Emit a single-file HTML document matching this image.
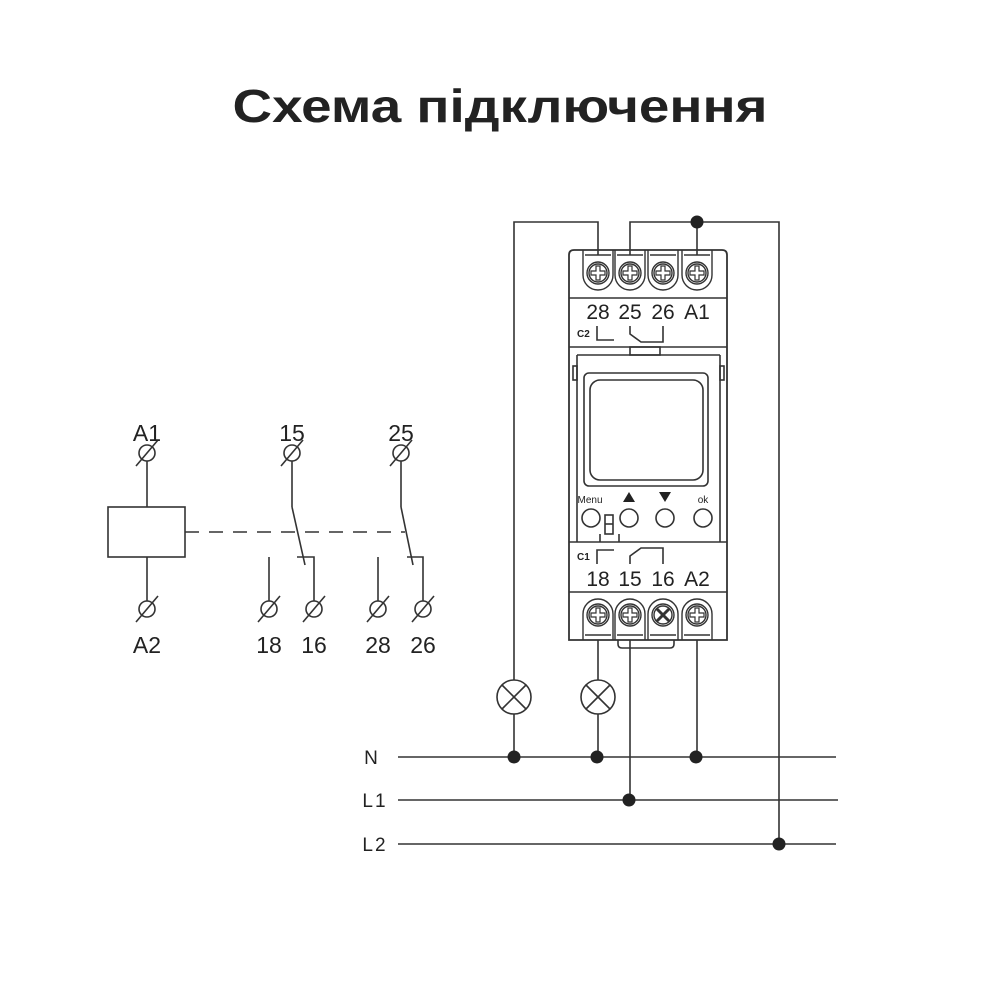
<!DOCTYPE html>
<html><head><meta charset="utf-8"><style>html,body{margin:0;padding:0;background:#fff}svg{display:block}</style></head>
<body>
<svg width="1000" height="1000" viewBox="0 0 1000 1000" xmlns="http://www.w3.org/2000/svg" font-family="Liberation Sans, sans-serif">
<text x="500" y="122" text-anchor="middle" font-size="46" font-weight="bold" fill="#222" textLength="535" lengthAdjust="spacingAndGlyphs">Схема підключення</text>

<g stroke="#333" stroke-width="1.6" fill="none">
<rect x="108" y="507" width="77" height="50"/>
<line x1="147" y1="461" x2="147" y2="507"/>
<line x1="147" y1="557" x2="147" y2="601"/>
<line x1="185" y1="532" x2="405" y2="532" stroke-dasharray="14,10"/>
<line x1="292" y1="461" x2="292" y2="507"/><line x1="292" y1="507" x2="305" y2="565"/>
<polyline points="297,557 314,557 314,601"/>
<line x1="269" y1="557" x2="269" y2="601"/>
<line x1="401" y1="461" x2="401" y2="507"/><line x1="401" y1="507" x2="413" y2="565"/>
<polyline points="407,557 423,557 423,601"/>
<line x1="378" y1="557" x2="378" y2="601"/>
<g id="t">
<circle cx="147" cy="453" r="8"/><line x1="136" y1="466" x2="158" y2="440"/>
</g>
<use href="#t" x="145"/><use href="#t" x="254"/>
<use href="#t" y="156"/><use href="#t" x="122" y="156"/><use href="#t" x="167" y="156"/><use href="#t" x="231" y="156"/><use href="#t" x="276" y="156"/>

<polyline points="514,680 514,222 598,222 598,255"/>
<polyline points="630,255 630,222 779,222 779,845"/>
<line x1="697" y1="222" x2="697" y2="255"/>
<line x1="514" y1="714" x2="514" y2="757"/>
<line x1="598" y1="640" x2="598" y2="680"/><line x1="598" y1="714" x2="598" y2="757"/>
<line x1="630" y1="640" x2="630" y2="800"/>
<line x1="697" y1="640" x2="697" y2="757"/>
<line x1="398" y1="757" x2="836" y2="757"/>
<line x1="398" y1="800" x2="838" y2="800"/>
<line x1="398" y1="844" x2="836" y2="844"/>
<circle cx="514" cy="697" r="17"/><line x1="502" y1="685" x2="526" y2="709"/><line x1="526" y1="685" x2="502" y2="709"/>
<circle cx="598" cy="697" r="17"/><line x1="586" y1="685" x2="610" y2="709"/><line x1="610" y1="685" x2="586" y2="709"/>

<path d="M569,640 L569,255 Q569,250 574,250 L722,250 Q727,250 727,255 L727,640 Z" stroke-width="1.8"/>
<line x1="569" y1="298" x2="727" y2="298"/>
<line x1="569" y1="347" x2="727" y2="347"/>
<line x1="569" y1="542" x2="727" y2="542"/>
<line x1="569" y1="592" x2="727" y2="592"/>
<line x1="577" y1="355" x2="577" y2="542"/><line x1="720" y1="355" x2="720" y2="542"/>
<line x1="577" y1="355" x2="720" y2="355"/>
<rect x="630" y="347" width="30" height="8"/>
<rect x="573" y="366" width="4" height="14"/><rect x="720" y="366" width="4" height="14"/>
<rect x="584" y="373" width="124" height="113" rx="5"/>
<rect x="590" y="380" width="113" height="100" rx="10"/>
<circle cx="591" cy="518" r="9"/><circle cx="629" cy="518" r="9"/><circle cx="665" cy="518" r="9"/><circle cx="703" cy="518" r="9"/>
<rect x="605" y="515" width="8" height="19"/><line x1="605" y1="524" x2="613" y2="524"/>
<line x1="600" y1="534" x2="600" y2="542"/><line x1="619" y1="534" x2="619" y2="542"/>
<polyline points="597,326 597,340 614,340"/>
<polyline points="630,326 630,334 641,342 663,342 663,326"/>
<polyline points="614,550 597,550 597,564"/>
<polyline points="630,564 630,556 641,548 663,548 663,564"/>
<path d="M618,640 L618,644 Q618,648 622,648 L670,648 Q674,648 674,644 L674,640"/>
</g>

<g stroke="#333" stroke-width="1.4" fill="none">
<g id="tt">
<path d="M583,250 L583,275 A15,15 0 0 0 613,275 L613,250"/>
<line x1="585" y1="255" x2="611" y2="255"/>
<circle cx="598" cy="273" r="11"/><circle cx="598" cy="273" r="9"/>
<path d="M596,266 h4 v5 h5 v4 h-5 v5 h-4 v-5 h-5 v-4 h5 z" stroke-width="1.2"/>
</g>
<use href="#tt" x="32"/><use href="#tt" x="65"/><use href="#tt" x="99"/>
<g id="bt">
<path d="M583,640 L583,614 A15,15 0 0 1 613,614 L613,640"/>
<line x1="585" y1="635" x2="611" y2="635"/>
<circle cx="598" cy="615" r="11"/><circle cx="598" cy="615" r="9"/>
<path d="M596,608 h4 v5 h5 v4 h-5 v5 h-4 v-5 h-5 v-4 h5 z" stroke-width="1.2"/>
</g>
<use href="#bt" x="32"/>
<path d="M648,640 L648,614 A15,15 0 0 1 678,614 L678,640"/>
<line x1="650" y1="635" x2="676" y2="635"/>
<circle cx="663" cy="615" r="11"/><circle cx="663" cy="615" r="9"/>
<line x1="657" y1="609" x2="669" y2="621" stroke-width="3"/><line x1="669" y1="609" x2="657" y2="621" stroke-width="3"/>
<use href="#bt" x="99"/>
</g>

<g fill="#222">
<circle cx="697" cy="222" r="6.5"/>
<circle cx="514" cy="757" r="6.5"/><circle cx="597" cy="757" r="6.5"/><circle cx="696" cy="757" r="6.5"/>
<circle cx="629" cy="800" r="6.5"/><circle cx="779" cy="844" r="6.5"/>
<polygon points="629,492 623,502 635,502"/><polygon points="659,492 671,492 665,502"/>
</g>

<g fill="#222" font-size="23" text-anchor="middle">
<text x="147" y="441">A1</text><text x="147" y="653">A2</text>
<text x="292" y="441">15</text><text x="401" y="441">25</text>
<text x="269" y="653">18</text><text x="314" y="653">16</text><text x="378" y="653">28</text><text x="423" y="653">26</text>
<text x="598" y="319" font-size="21">28</text><text x="630" y="319" font-size="21">25</text><text x="663" y="319" font-size="21">26</text><text x="697" y="319" font-size="21">A1</text>
<text x="598" y="586" font-size="21">18</text><text x="630" y="586" font-size="21">15</text><text x="663" y="586" font-size="21">16</text><text x="697" y="586" font-size="21">A2</text>
<text x="590" y="503" font-size="10">Menu</text><text x="703" y="503" font-size="10">ok</text>
<text x="371" y="764" font-size="19">N</text><text x="375" y="807" font-size="19" letter-spacing="2">L1</text><text x="375" y="851" font-size="19" letter-spacing="2">L2</text>
</g>
<g fill="#222" font-size="10" font-weight="bold"><text x="577" y="337">C2</text><text x="577" y="560">C1</text></g>
</svg>
</body></html>
